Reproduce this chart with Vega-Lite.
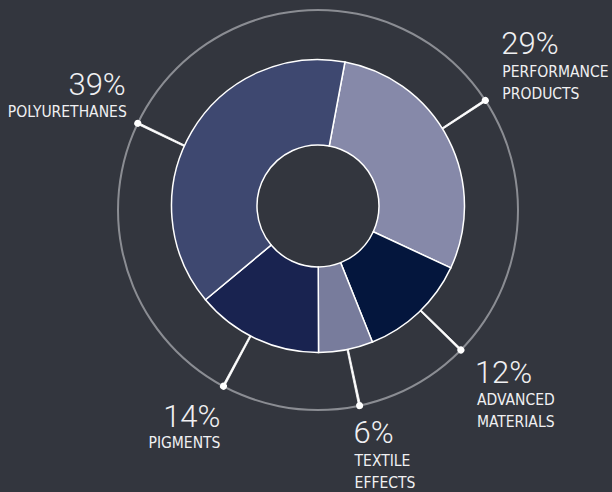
{
  "$schema": "https://vega.github.io/schema/vega-lite/v6.json",
  "width": 588,
  "height": 412,
  "autosize": "none",
  "padding": {"left": 24, "top": 0, "right": 0, "bottom": 80},
  "background": "#33363e",
  "config": {"view": {"stroke": null}},
  "data": {
    "values": [
      {"cat": "Performance Products", "ord": 1, "share": 0.29, "leader": 0.1283, "name": "PERFORMANCE\nPRODUCTS"},
      {"cat": "Advanced Materials", "ord": 2, "share": 0.12, "leader": 0.3439, "name": "ADVANCED\nMATERIALS"},
      {"cat": "Textile Effects", "ord": 3, "share": 0.06, "leader": 0.4372, "name": "TEXTILE\nEFFECTS"},
      {"cat": "Pigments", "ord": 4, "share": 0.14, "leader": 0.5489, "name": "PIGMENTS"},
      {"cat": "Polyurethanes", "ord": 5, "share": 0.39, "leader": 0.7919, "name": "POLYURETHANES"}
    ]
  },
  "layer": [
    {
      "transform": [{"filter": "datum.ord == 1"}],
      "mark": {"type": "arc", "theta": 6.2832, "radius": 201, "radius2": 199, "fill": "#8b8d93", "yOffset": 4},
      "encoding": {}
    },
    {
      "mark": {"type": "arc", "radius": 200, "radius2": 140, "thetaOffset": -0.005, "theta2Offset": 0.005, "fill": "white", "stroke": "white", "strokeWidth": 0.8, "yOffset": 4},
      "encoding": {
        "theta": {"field": "leader", "type": "quantitative", "stack": false, "scale": {"domain": [0, 1], "range": [0.185, 6.46819]}},
        "theta2": {"field": "leader"}
      }
    },
    {
      "mark": {"type": "arc", "radius": 146.5, "radius2": 61, "stroke": "white", "strokeWidth": 1.5},
      "encoding": {
        "theta": {"field": "share", "type": "quantitative", "stack": true, "scale": {"domain": [0, 1], "range": [0.185, 6.46819]}},
        "order": {"field": "ord", "type": "quantitative"},
        "color": {
          "field": "cat",
          "type": "nominal",
          "scale": {
            "domain": ["Performance Products", "Advanced Materials", "Textile Effects", "Pigments", "Polyurethanes"],
            "range": ["#8689a9", "#04163d", "#787c9c", "#192350", "#3e4870"]
          },
          "legend": null
        }
      }
    },
    {
      "mark": {"type": "arc", "radius": 203.5, "radius2": 196.5, "thetaOffset": -0.0175, "theta2Offset": 0.0175, "cornerRadius": 3.5, "fill": "white", "yOffset": 4},
      "encoding": {
        "theta": {"field": "leader", "type": "quantitative", "stack": false, "scale": {"domain": [0, 1], "range": [0.185, 6.46819]}},
        "theta2": {"field": "leader"}
      }
    },
    {
      "transform": [{"filter": "datum.ord == 1"}],
      "layer": [
        {"mark": {"type": "text", "radius": 200, "yOffset": 4, "align": "left", "baseline": "alphabetic", "dx": 16, "dy": -46, "font": "Roboto", "fontWeight": 300, "fontSize": 31, "fill": "#f0f0f2"},
         "encoding": {"theta": {"field": "leader", "type": "quantitative", "stack": false, "scale": {"domain": [0, 1], "range": [0.185, 6.46819]}}, "text": {"field": "share", "type": "quantitative", "format": ".0%"}}},
        {"mark": {"type": "text", "radius": 200, "yOffset": 4, "align": "left", "baseline": "alphabetic", "dx": 17, "dy": -23, "font": "DejaVu Sans Condensed, sans-serif", "fontSize": 15.5, "lineBreak": "\n", "lineHeight": 22, "fill": "#f0f0f2"},
         "encoding": {"theta": {"field": "leader", "type": "quantitative", "stack": false, "scale": {"domain": [0, 1], "range": [0.185, 6.46819]}}, "text": {"field": "name", "type": "nominal"}}}
      ]
    },
    {
      "transform": [{"filter": "datum.ord == 2"}],
      "layer": [
        {"mark": {"type": "text", "radius": 200, "yOffset": 4, "align": "left", "baseline": "alphabetic", "dx": 14, "dy": 33, "font": "Roboto", "fontWeight": 300, "fontSize": 31, "fill": "#f0f0f2"},
         "encoding": {"theta": {"field": "leader", "type": "quantitative", "stack": false, "scale": {"domain": [0, 1], "range": [0.185, 6.46819]}}, "text": {"field": "share", "type": "quantitative", "format": ".0%"}}},
        {"mark": {"type": "text", "radius": 200, "yOffset": 4, "align": "left", "baseline": "alphabetic", "dx": 16, "dy": 55, "font": "DejaVu Sans Condensed, sans-serif", "fontSize": 15.5, "lineBreak": "\n", "lineHeight": 22, "fill": "#f0f0f2"},
         "encoding": {"theta": {"field": "leader", "type": "quantitative", "stack": false, "scale": {"domain": [0, 1], "range": [0.185, 6.46819]}}, "text": {"field": "name", "type": "nominal"}}}
      ]
    },
    {
      "transform": [{"filter": "datum.ord == 3"}],
      "layer": [
        {"mark": {"type": "text", "radius": 200, "yOffset": 4, "align": "left", "baseline": "alphabetic", "dx": -6, "dy": 37, "font": "Roboto", "fontWeight": 300, "fontSize": 31, "fill": "#f0f0f2"},
         "encoding": {"theta": {"field": "leader", "type": "quantitative", "stack": false, "scale": {"domain": [0, 1], "range": [0.185, 6.46819]}}, "text": {"field": "share", "type": "quantitative", "format": ".0%"}}},
        {"mark": {"type": "text", "radius": 200, "yOffset": 4, "align": "left", "baseline": "alphabetic", "dx": -5, "dy": 60, "font": "DejaVu Sans Condensed, sans-serif", "fontSize": 15.5, "lineBreak": "\n", "lineHeight": 22, "fill": "#f0f0f2"},
         "encoding": {"theta": {"field": "leader", "type": "quantitative", "stack": false, "scale": {"domain": [0, 1], "range": [0.185, 6.46819]}}, "text": {"field": "name", "type": "nominal"}}}
      ]
    },
    {
      "transform": [{"filter": "datum.ord == 4"}],
      "layer": [
        {"mark": {"type": "text", "radius": 200, "yOffset": 4, "align": "right", "baseline": "alphabetic", "dx": -3, "dy": 41, "font": "Roboto", "fontWeight": 300, "fontSize": 31, "fill": "#f0f0f2"},
         "encoding": {"theta": {"field": "leader", "type": "quantitative", "stack": false, "scale": {"domain": [0, 1], "range": [0.185, 6.46819]}}, "text": {"field": "share", "type": "quantitative", "format": ".0%"}}},
        {"mark": {"type": "text", "radius": 200, "yOffset": 4, "align": "right", "baseline": "alphabetic", "dx": -3, "dy": 62, "font": "DejaVu Sans Condensed, sans-serif", "fontSize": 15.5, "lineBreak": "\n", "lineHeight": 22, "fill": "#f0f0f2"},
         "encoding": {"theta": {"field": "leader", "type": "quantitative", "stack": false, "scale": {"domain": [0, 1], "range": [0.185, 6.46819]}}, "text": {"field": "name", "type": "nominal"}}}
      ]
    },
    {
      "transform": [{"filter": "datum.ord == 5"}],
      "layer": [
        {"mark": {"type": "text", "radius": 200, "yOffset": 4, "align": "right", "baseline": "alphabetic", "dx": -12, "dy": -28, "font": "Roboto", "fontWeight": 300, "fontSize": 31, "fill": "#f0f0f2"},
         "encoding": {"theta": {"field": "leader", "type": "quantitative", "stack": false, "scale": {"domain": [0, 1], "range": [0.185, 6.46819]}}, "text": {"field": "share", "type": "quantitative", "format": ".0%"}}},
        {"mark": {"type": "text", "radius": 200, "yOffset": 4, "align": "right", "baseline": "alphabetic", "dx": -11, "dy": -6, "font": "DejaVu Sans Condensed, sans-serif", "fontSize": 15.5, "lineBreak": "\n", "lineHeight": 22, "fill": "#f0f0f2"},
         "encoding": {"theta": {"field": "leader", "type": "quantitative", "stack": false, "scale": {"domain": [0, 1], "range": [0.185, 6.46819]}}, "text": {"field": "name", "type": "nominal"}}}
      ]
    }
  ]
}
